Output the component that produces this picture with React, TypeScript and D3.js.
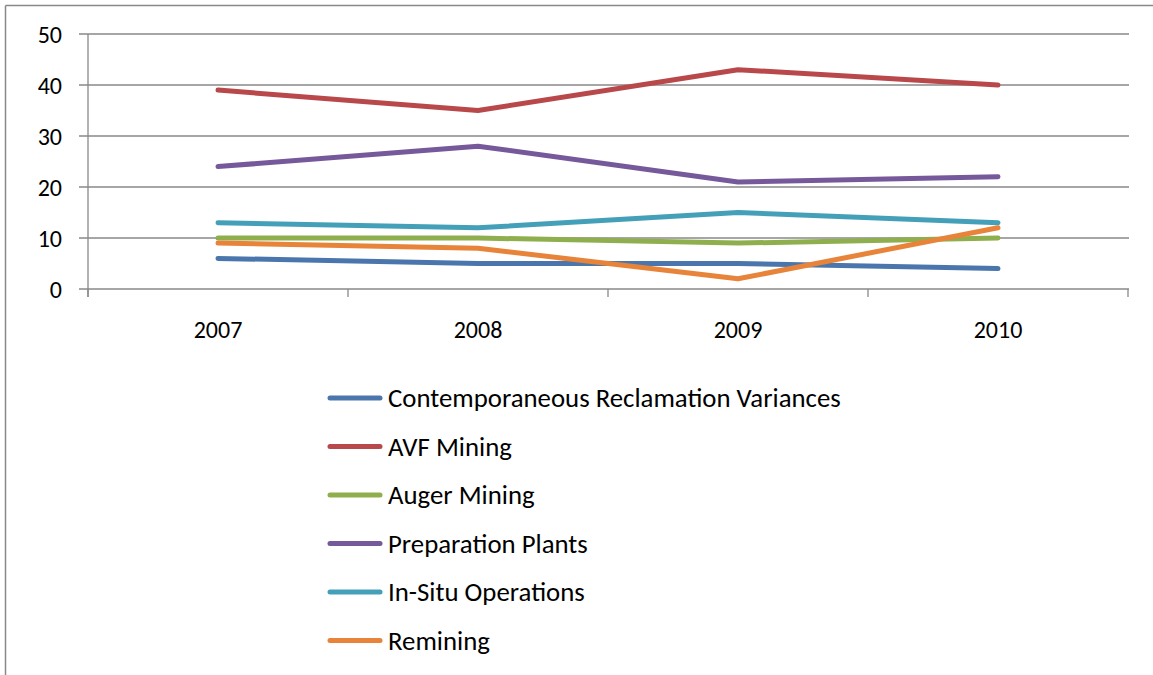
import React from "react";
import * as d3 from "d3";

const categories = ["2007", "2008", "2009", "2010"];
const seriesNames = [
  "Contemporaneous Reclamation Variances",
  "AVF Mining",
  "Auger Mining",
  "Preparation Plants",
  "In-Situ Operations",
  "Remining",
];
const contemporaneous = [6, 5, 5, 4];
const avfMining = [39, 35, 43, 40];
const augerMining = [10, 10, 9, 10];
const preparationPlants = [24, 28, 21, 22];
const inSitu = [13, 12, 15, 13];
const remining = [9, 8, 2, 12];
const yTicks = [0, 10, 20, 30, 40, 50];
const colors = ["#4A76AD", "#B8484A", "#8FAF4E", "#76599A", "#44A0B8", "#E8833A"];

const seriesValues = [contemporaneous, avfMining, augerMining, preparationPlants, inSitu, remining];

export default function App() {
  const W = 1153, H = 675;
  const left = 88, right = 1128, top = 34, bottom = 289;
  const x = d3.scaleBand<string>().domain(categories).range([left, right]);
  const y = d3.scaleLinear().domain([0, 50]).range([bottom, top]);
  const line = d3
    .line<number>()
    .x((_, i) => (x(categories[i]) as number) + x.bandwidth() / 2)
    .y((d) => y(d));
  const font = "Carlito, Calibri, 'Open Sans', 'Noto Sans', sans-serif";
  const grid = "#898989";
  const legendY0 = 398, legendStep = 48.5;
  return (
    <svg width={W} height={H} style={{ position: "absolute", left: 0, top: 0 }} fontFamily={font}>
      <rect x={0} y={0} width={W} height={H} fill="#fff" />
      <line x1={5.5} y1={5.5} x2={W} y2={5.5} stroke={grid} strokeWidth={1.5} />
      <line x1={5.5} y1={5.5} x2={5.5} y2={H} stroke={grid} strokeWidth={1.5} />
      {yTicks.map((t) => (
        <g key={t}>
          <line x1={left - 9} x2={right + 1} y1={y(t)} y2={y(t)} stroke={grid} strokeWidth={1.3} />
          <text x={62} y={y(t) + 8.5} textAnchor="end" fontSize={24} fill="#000">
            {t}
          </text>
        </g>
      ))}
      <line x1={left} x2={left} y1={top} y2={bottom + 8} stroke={grid} strokeWidth={1.3} />
      {categories.concat(["end"]).map((c, i) => {
        const xx = left + i * x.bandwidth();
        return <line key={c} x1={xx} x2={xx} y1={bottom} y2={bottom + 8} stroke={grid} strokeWidth={1.3} />;
      })}
      {categories.map((c) => (
        <text key={c} x={(x(c) as number) + x.bandwidth() / 2} y={338} textAnchor="middle" fontSize={24} fill="#000">
          {c}
        </text>
      ))}
      {seriesValues.map((vals, i) => (
        <path
          key={seriesNames[i]}
          d={line(vals) || ""}
          fill="none"
          stroke={colors[i]}
          strokeWidth={5}
          strokeLinecap="round"
          strokeLinejoin="round"
        />
      ))}
      {seriesNames.map((n, i) => {
        const ly = legendY0 + i * legendStep;
        return (
          <g key={n}>
            <line x1={330} x2={380} y1={ly} y2={ly} stroke={colors[i]} strokeWidth={5} strokeLinecap="round" />
            <text x={388} y={ly + 9} fontSize={26.8} fill="#000">
              {n}
            </text>
          </g>
        );
      })}
    </svg>
  );
}
